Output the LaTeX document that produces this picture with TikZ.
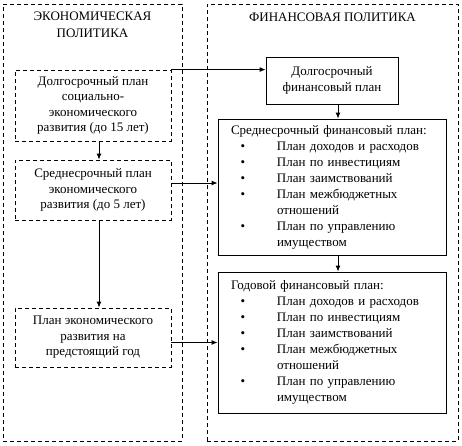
\documentclass[tikz,border=0pt]{standalone}
\usepackage{fontspec}
\setmainfont{Liberation Serif}
\usepackage{xcolor}
\usetikzlibrary{arrows.meta}
\definecolor{ink}{HTML}{000000}
\definecolor{paper}{HTML}{FFFFFF}
\tikzset{
  outerBox/.style={draw=ink, dash pattern=on 4pt off 3pt, line width=0.9pt, inner sep=0pt},
  econBox/.style={draw=ink, dash pattern=on 4pt off 3pt, line width=0.9pt, inner sep=0pt,
    minimum width=156pt, align=center},
  finBox/.style={draw=ink, line width=0.9pt, inner sep=0pt, align=center},
  listBox/.style={finBox, text width=202pt, inner xsep=13pt, align=left,
    font=\fontsize{13}{16}\selectfont},
  capsLbl/.style={align=center, font=\fontsize{13}{17}\selectfont},
  flow/.style={draw=ink, line width=0.9pt, -{Latex[length=6pt,width=5pt]}},
}
\newcommand{\finItems}{%
  \hspace*{9.5pt}• & План доходов и расходов\\
  \hspace*{9.5pt}• & План по инвестициям\\
  \hspace*{9.5pt}• & План заимствований\\
  \hspace*{9.5pt}• & План межбюджетных\\
                   & отношений\\
  \hspace*{9.5pt}• & План по управлению\\
                   & имуществом
}

\begin{document}
\begin{tikzpicture}[x=1pt, y=-1pt, font=\fontsize{13}{15.5}\selectfont]
  \useasboundingbox[fill=paper] (0,0) rectangle (462,445);

  % two policy areas
  \node[outerBox, minimum width=179pt, minimum height=437pt] (econPol) at (92.5,222.5) {};
  \node[outerBox, minimum width=251pt, minimum height=437pt] (finPol) at (332.5,222.5) {};
  \node[capsLbl] (econTitle) at (92.5,24.5) {ЭКОНОМИЧЕСКАЯ\\ПОЛИТИКА};
  \node[capsLbl] (finTitle) at (332.5,17) {ФИНАНСОВАЯ ПОЛИТИКА};

  % economic plans
  \node[econBox, minimum height=71pt] (longEcon) at (93,105.5)
    {Долгосрочный план\\социально-\\экономического\\развития (до 15 лет)};
  \node[econBox, minimum height=60pt] (midEcon) at (93,190)
    {Среднесрочный план\\экономического\\развития (до 5 лет)};
  \node[econBox, minimum height=59pt] (yearEcon) at (93,337.5)
    {План экономического\\развития на\\предстоящий год};

  % financial plans
  \node[finBox, minimum width=132pt, minimum height=47pt] (longFin) at (332,80.5)
    {Долгосрочный\\финансовый план};
  \node[listBox, minimum height=136pt] (midFin) at (332,187)
    {\begin{tabular}{@{}p{46pt}@{}l@{}}
       \multicolumn{2}{@{}l@{}}{Среднесрочный финансовый план:}\\
       \finItems
     \end{tabular}};
  \node[listBox, minimum height=141pt] (yearFin) at (332,342.5)
    {\begin{tabular}{@{}p{46pt}@{}l@{}}
       \multicolumn{2}{@{}l@{}}{Годовой финансовый план:}\\
       \finItems
     \end{tabular}};

  % connectors
  \draw[flow] (longEcon.north east) -- (longEcon.north east -| longFin.west);
  \draw[flow] ([yshift=7pt]midEcon.east) -- ([yshift=7pt]midEcon.east -| midFin.west);
  \draw[flow] (yearEcon.east |- yearFin.west) -- (yearFin.west);
  \draw[flow] ([xshift=6pt]longEcon.south) -- ([xshift=6pt]midEcon.north);
  \draw[flow] ([xshift=6pt]midEcon.south) -- ([xshift=6pt]yearEcon.north);
  \draw[flow] ([xshift=6pt]longFin.south) -- ([xshift=6pt]midFin.north);
  \draw[flow] ([xshift=6pt]midFin.south) -- ([xshift=6pt]yearFin.north);
\end{tikzpicture}
\end{document}
